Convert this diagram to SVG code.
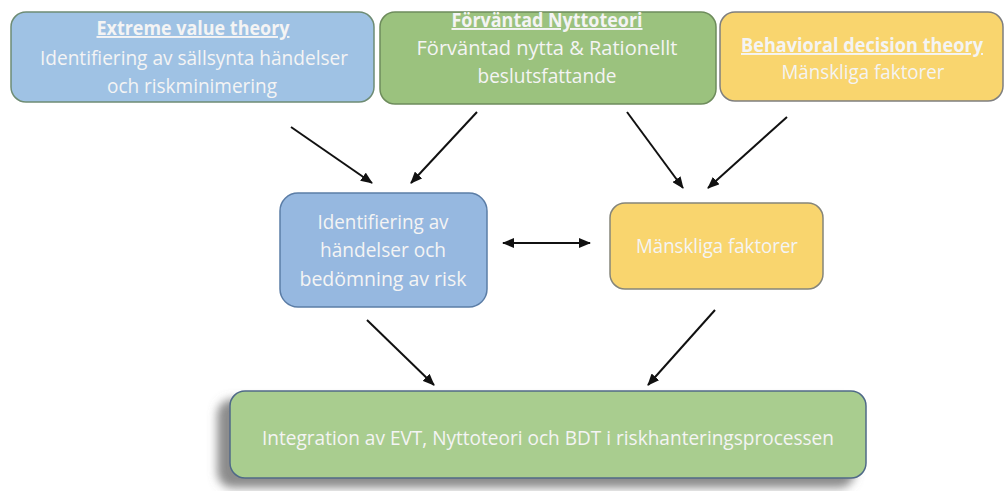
<svg xmlns="http://www.w3.org/2000/svg" width="1005" height="491" viewBox="0 0 1005 491">
<style>
.t{font-family:"Open Sans","Lato",sans-serif;font-size:19.5px;fill:#F4F4F4;text-anchor:middle;font-variant-ligatures:none}
.h{font-weight:bold;text-decoration:underline}
.c{stroke:#111;stroke-width:2;fill:none;marker-end:url(#ah)}
</style>
<defs>
<marker id="ah" markerWidth="12" markerHeight="10" refX="11" refY="5" orient="auto" markerUnits="userSpaceOnUse">
<path d="M0,0 L12,5 L0,10 Z" fill="#111"/>
</marker>
<marker id="as" markerWidth="12" markerHeight="10" refX="1" refY="5" orient="auto" markerUnits="userSpaceOnUse">
<path d="M12,0 L0,5 L12,10 Z" fill="#111"/>
</marker>
<filter id="sh" x="-10%" y="-30%" width="120%" height="160%">
<feDropShadow dx="-12" dy="9" stdDeviation="5" flood-color="#777" flood-opacity="0.85"/>
</filter>
</defs>
<rect width="1005" height="491" fill="#fff"/>
<g id="evt">
<rect x="11" y="12" width="363" height="90" rx="15" fill="#9FC2E4" stroke="#6E8C74" stroke-width="1.5"/>
<text class="t h" x="193" y="35" textLength="193" lengthAdjust="spacingAndGlyphs">Extreme value theory</text>
<text class="t" x="194" y="65" textLength="308" lengthAdjust="spacingAndGlyphs">Identifiering av sällsynta händelser</text>
<text class="t" x="192" y="93" textLength="170" lengthAdjust="spacingAndGlyphs">och riskminimering</text>
</g>
<g id="fnt">
<rect x="380" y="12" width="336" height="92" rx="15" fill="#9BC27E" stroke="#6E8C5C" stroke-width="1.5"/>
<text class="t h" x="547" y="27" textLength="191" lengthAdjust="spacingAndGlyphs">Förväntad Nyttoteori</text>
<text class="t" x="547" y="55" textLength="261" lengthAdjust="spacingAndGlyphs">Förväntad nytta &amp; Rationellt</text>
<text class="t" x="547" y="83" textLength="139" lengthAdjust="spacingAndGlyphs">beslutsfattande</text>
</g>
<g id="bdt">
<rect x="720" y="12" width="283" height="89" rx="15" fill="#F9D56E" stroke="#7F7F7F" stroke-width="1.5"/>
<text class="t h" x="862" y="52" textLength="242" lengthAdjust="spacingAndGlyphs">Behavioral decision theory</text>
<text class="t" x="863" y="79" textLength="163" lengthAdjust="spacingAndGlyphs">Mänskliga faktorer</text>
</g>
<g id="ident">
<rect x="280" y="193" width="207" height="114" rx="18" fill="#96B8E0" stroke="#5B7DA6" stroke-width="1.5"/>
<text class="t" x="383" y="229" textLength="131" lengthAdjust="spacingAndGlyphs">Identifiering av</text>
<text class="t" x="383" y="257" textLength="126" lengthAdjust="spacingAndGlyphs">händelser och</text>
<text class="t" x="383" y="286" textLength="167" lengthAdjust="spacingAndGlyphs">bedömning av risk</text>
</g>
<g id="mf">
<rect x="610" y="203" width="213" height="86" rx="15" fill="#F9D56E" stroke="#85857A" stroke-width="1.5"/>
<text class="t" x="717" y="253" textLength="162" lengthAdjust="spacingAndGlyphs">Mänskliga faktorer</text>
</g>
<g id="integ">
<rect x="230" y="391" width="636" height="87" rx="15" fill="#A9CD8F" stroke="#506A88" stroke-width="1.5" filter="url(#sh)"/>
<text class="t" x="548" y="445" textLength="572" lengthAdjust="spacingAndGlyphs">Integration av EVT, Nyttoteori och BDT i riskhanteringsprocessen</text>
</g>
<g id="connectors">
<line class="c" x1="291" y1="127" x2="372" y2="183"/>
<line class="c" x1="477" y1="112" x2="411" y2="183"/>
<line class="c" x1="627" y1="112" x2="683" y2="188"/>
<line class="c" x1="787" y1="117" x2="708" y2="188"/>
<line class="c" x1="503" y1="243" x2="590" y2="243" marker-start="url(#as)"/>
<line class="c" x1="367" y1="320" x2="434" y2="385"/>
<line class="c" x1="715" y1="310" x2="648" y2="385"/>
</g>
</svg>
